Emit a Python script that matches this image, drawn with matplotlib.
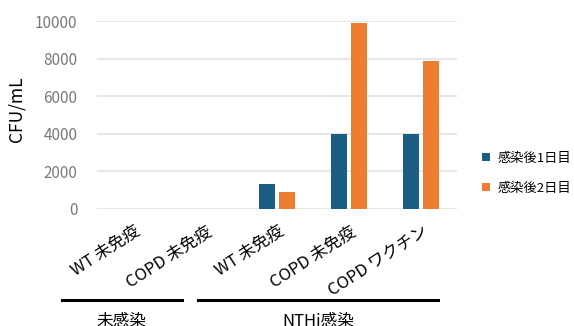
import numpy as np
import matplotlib.pyplot as plt
from matplotlib.lines import Line2D
from matplotlib.transforms import ScaledTranslation

plt.rcParams['font.family'] = ['Noto Sans CJK JP', 'DejaVu Sans']

groups = ['WT 未免疫', 'COPD 未免疫', 'WT 未免疫', 'COPD 未免疫', 'COPD ワクチン']
day1 = [0, 0, 1320, 4000, 4000]
day2 = [0, 0, 890, 9880, 7860]
series_names = ['感染後1日目', '感染後2日目']
bracket_names = ['未感染', 'NTHi感染']
bracket_spans = [(-0.99, 0.68), (0.90, 4.24)]

blue = '#1b5e82'
orange = '#ed7d31'

fig = plt.figure(figsize=(5.74, 3.26), dpi=100)
ax = fig.add_axes([0.169, 0.359, 0.627, 0.576])

x = np.arange(len(groups))
w = 0.222
ax.bar(x - 0.139, day1, w, color=blue, label=series_names[0], zorder=3)
ax.bar(x + 0.139, day2, w, color=orange, label=series_names[1], zorder=3)

ax.set_xlim(-0.5, len(groups) - 0.5)
ax.set_ylim(0, 10000)
ax.set_yticks(range(0, 10001, 2000))
ax.grid(axis='y', color='#e3e3e3', linewidth=1.2, zorder=0)
for s in ax.spines.values():
    s.set_visible(False)
ax.tick_params(axis='both', length=0)
ax.tick_params(axis='y', labelcolor='#7a7a7a', labelsize=11, pad=14)

ax.set_xticks(x)
ax.set_xticklabels(groups, rotation=33, ha='right', va='top',
                   rotation_mode='anchor', fontsize=12)
for lbl in ax.get_xticklabels():
    lbl.set_transform(lbl.get_transform() + ScaledTranslation(0.01, -0.09, fig.dpi_scale_trans))

ax.set_ylabel('CFU/mL', fontsize=12.5)
ax.yaxis.set_label_coords(-0.2, 0.53)

# group brackets under the axis
tr = ax.get_xaxis_transform()
for (x0, x1), name in zip(bracket_spans, bracket_names):
    ax.add_line(Line2D([x0, x1], [-0.485, -0.485], transform=tr, color='black',
                       linewidth=2.2, clip_on=False))
    ax.text((x0 + x1) / 2, -0.555, name, transform=tr, ha='center', va='top',
            fontsize=12)

ax.legend(loc='center left', bbox_to_anchor=(1.069, 0.19), frameon=False,
          fontsize=9.5, handlelength=0.6, handleheight=0.6, handletextpad=0.6,
          labelspacing=1.3, borderpad=0, borderaxespad=0)

fig.savefig('out.png', dpi=100)
